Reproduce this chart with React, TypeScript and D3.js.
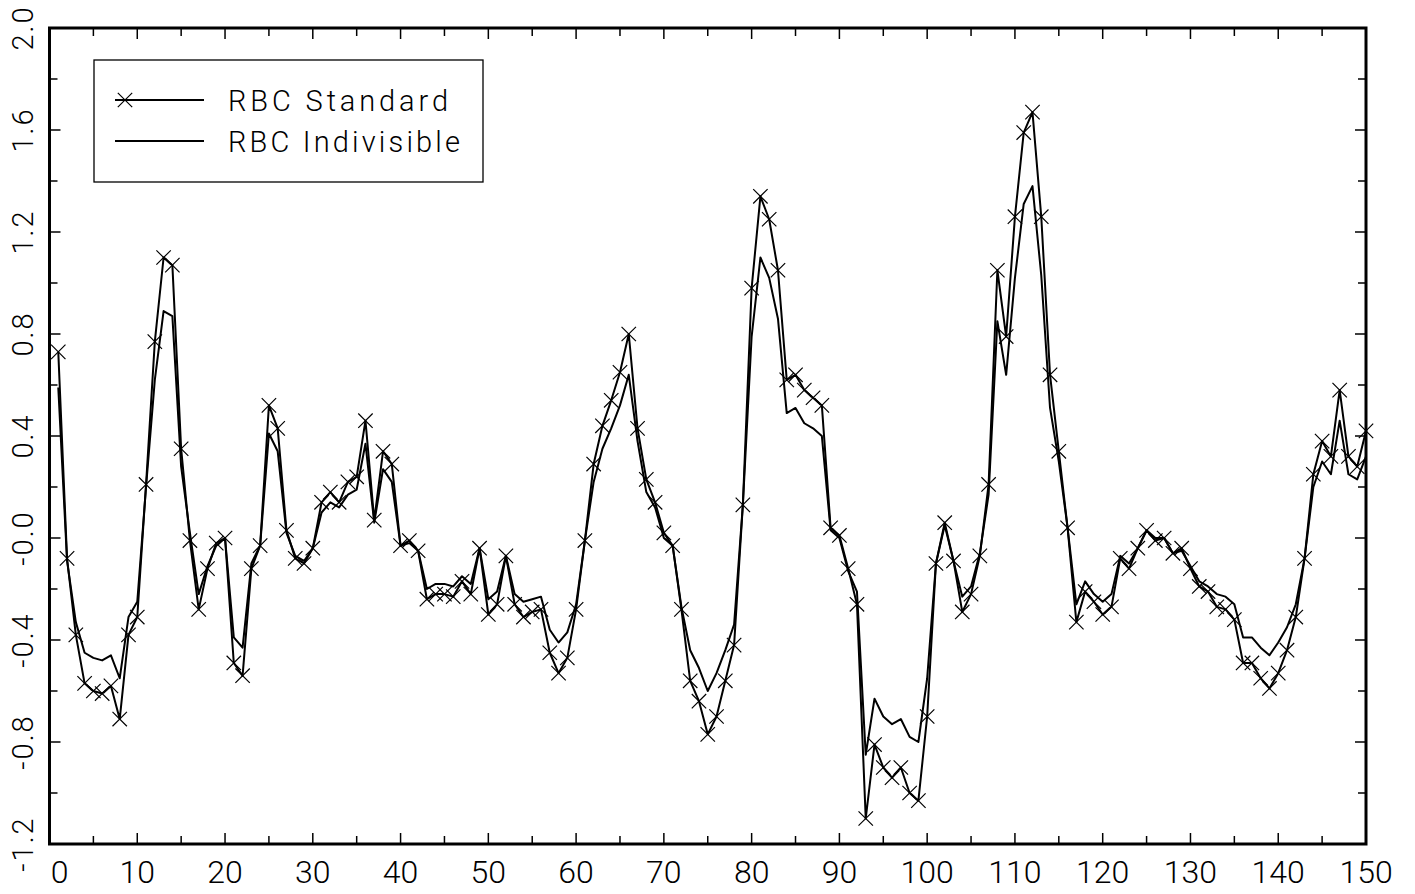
import React from "react";
import * as d3 from "d3";

const periods: number[] = d3.range(1, 151);

const rbcStandard: number[] = [
  0.73, -0.08, -0.38, -0.57, -0.6, -0.61, -0.58, -0.71, -0.38, -0.31,
  0.21, 0.77, 1.1, 1.07, 0.35, -0.01, -0.28, -0.12, -0.02, 0.0,
  -0.49, -0.54, -0.12, -0.03, 0.52, 0.43, 0.03, -0.08, -0.1, -0.04,
  0.14, 0.18, 0.14, 0.22, 0.24, 0.46, 0.07, 0.34, 0.29, -0.03,
  -0.01, -0.05, -0.24, -0.22, -0.22, -0.23, -0.17, -0.22, -0.04, -0.3,
  -0.26, -0.07, -0.26, -0.31, -0.29, -0.28, -0.45, -0.53, -0.47, -0.28,
  -0.01, 0.29, 0.44, 0.54, 0.65, 0.8, 0.43, 0.23, 0.14, 0.02,
  -0.03, -0.28, -0.56, -0.64, -0.77, -0.7, -0.56, -0.42, 0.13, 0.98,
  1.34, 1.25, 1.05, 0.62, 0.64, 0.58, 0.55, 0.52, 0.04, 0.01,
  -0.12, -0.26, -1.1, -0.81, -0.9, -0.94, -0.9, -1.0, -1.03, -0.7,
  -0.1, 0.06, -0.09, -0.29, -0.22, -0.07, 0.21, 1.05, 0.79, 1.26,
  1.59, 1.67, 1.26, 0.64, 0.34, 0.04, -0.33, -0.21, -0.25, -0.3,
  -0.27, -0.08, -0.12, -0.04, 0.03, -0.01, 0.0, -0.06, -0.04, -0.12,
  -0.19, -0.21, -0.27, -0.28, -0.32, -0.49, -0.49, -0.55, -0.59, -0.53,
  -0.44, -0.31, -0.08, 0.25, 0.38, 0.32, 0.58, 0.32, 0.28, 0.42,
];

const rbcIndivisible: number[] = [
  0.59, -0.09, -0.33, -0.45, -0.47, -0.48, -0.46, -0.55, -0.31, -0.25,
  0.2, 0.62, 0.89, 0.87, 0.28, 0.02, -0.22, -0.11, -0.03, 0.0,
  -0.39, -0.43, -0.1, -0.03, 0.41, 0.34, 0.02, -0.07, -0.09, -0.04,
  0.1, 0.14, 0.12, 0.17, 0.19, 0.37, 0.06, 0.27, 0.22, -0.03,
  -0.02, -0.05, -0.2, -0.18, -0.18, -0.19, -0.15, -0.18, -0.04, -0.24,
  -0.21, -0.07, -0.22, -0.25, -0.24, -0.23, -0.36, -0.41, -0.37, -0.26,
  -0.01, 0.22, 0.35, 0.43, 0.52, 0.64, 0.38, 0.18, 0.12, 0.0,
  -0.03, -0.27, -0.44, -0.51, -0.6, -0.53, -0.44, -0.34, 0.13, 0.79,
  1.1, 1.02, 0.86, 0.49, 0.51, 0.45, 0.43, 0.4, 0.03, 0.0,
  -0.13, -0.21, -0.85, -0.63, -0.7, -0.73, -0.71, -0.78, -0.8, -0.55,
  -0.1, 0.05, -0.09, -0.23, -0.19, -0.06, 0.17, 0.85, 0.64, 1.02,
  1.31, 1.38, 1.03, 0.51, 0.3, 0.04, -0.26, -0.17, -0.22, -0.25,
  -0.22, -0.07, -0.1, -0.04, 0.03, 0.0, 0.0, -0.06, -0.05, -0.11,
  -0.17, -0.19, -0.22, -0.23, -0.26, -0.39, -0.39, -0.43, -0.46, -0.41,
  -0.35, -0.26, -0.08, 0.2, 0.3, 0.25, 0.46, 0.25, 0.23, 0.32,
];

const xMajorTicks: number[] = d3.range(0, 151, 10);
const xMinorTicks: number[] = d3.range(5, 150, 10);
const yMajorTicks: number[] = [2.0, 1.6, 1.2, 0.8, 0.4, 0.0, -0.4, -0.8, -1.2];
const yMajorLabels: string[] = ["2.0", "1.6", "1.2", "0.8", "0.4", "-0.0", "-0.4", "-0.8", "-1.2"];
const yMinorTicks: number[] = [1.8, 1.4, 1.0, 0.6, 0.2, -0.2, -0.6, -1.0];
const legendLabels: string[] = ["RBC Standard", "RBC Indivisible"];

const W = 1415;
const H = 894;
const left = 49.5;
const right = 1366;
const top = 28;
const bottom = 844;
const FONT = "Roboto, 'Liberation Sans', sans-serif";

export default function App() {
  const x = d3.scaleLinear().domain([0, 150]).range([left, right]);
  const y = d3.scaleLinear().domain([-1.2, 2.0]).range([bottom, top]);

  const line = d3
    .line<number>()
    .x((_, i) => x(periods[i]))
    .y((d) => y(d));

  const majorLen = 11;
  const minorLen = 8;
  const ms = 7.2;

  const xMark = (cx: number, cy: number, key: string | number) => (
    <path
      key={key}
      d={`M${cx - ms},${cy - ms}L${cx + ms},${cy + ms}M${cx - ms},${cy + ms}L${cx + ms},${cy - ms}`}
      stroke="#000"
      strokeWidth={1.2}
      fill="none"
    />
  );

  return (
    <svg
      width={W}
      height={H}
      style={{ position: "absolute", left: 0, top: 0, background: "#fff" }}
    >
      <rect x={0} y={0} width={W} height={H} fill="#fff" />
      {/* ticks */}
      <g stroke="#000" strokeWidth={1.5}>
        {xMajorTicks.map((t) => (
          <g key={`xm${t}`}>
            <line x1={x(t)} x2={x(t)} y1={bottom} y2={bottom - majorLen} />
            <line x1={x(t)} x2={x(t)} y1={top} y2={top + majorLen} />
          </g>
        ))}
        {xMinorTicks.map((t) => (
          <g key={`xn${t}`}>
            <line x1={x(t)} x2={x(t)} y1={bottom} y2={bottom - minorLen} />
            <line x1={x(t)} x2={x(t)} y1={top} y2={top + minorLen} />
          </g>
        ))}
        {yMajorTicks.map((t) => (
          <g key={`ym${t}`}>
            <line x1={left} x2={left + majorLen} y1={y(t)} y2={y(t)} />
            <line x1={right} x2={right - majorLen} y1={y(t)} y2={y(t)} />
          </g>
        ))}
        {yMinorTicks.map((t) => (
          <g key={`yn${t}`}>
            <line x1={left} x2={left + minorLen} y1={y(t)} y2={y(t)} />
            <line x1={right} x2={right - minorLen} y1={y(t)} y2={y(t)} />
          </g>
        ))}
      </g>

      {/* data lines */}
      <path d={line(rbcIndivisible) || ""} fill="none" stroke="#000" strokeWidth={2} strokeLinejoin="round" />
      <path d={line(rbcStandard) || ""} fill="none" stroke="#000" strokeWidth={2} strokeLinejoin="round" />
      <g>{rbcStandard.map((v, i) => xMark(x(periods[i]), y(v), `m${i}`))}</g>

      {/* frame */}
      <rect
        x={left}
        y={top}
        width={right - left}
        height={bottom - top}
        fill="none"
        stroke="#000"
        strokeWidth={3}
      />

      {/* x labels */}
      <g fontFamily={FONT} fontWeight={300} fontSize={32} fill="#000" textAnchor="middle">
        {xMajorTicks.map((t, i) => (
          <text key={`xl${t}`} x={x(t) + (i === 0 ? 10 : 0)} y={883}>
            {t}
          </text>
        ))}
      </g>

      {/* y labels */}
      <g fontFamily={FONT} fontWeight={300} fontSize={29} fill="#000" textAnchor="middle">
        {yMajorTicks.map((t, i) => (
          <text key={`yl${t}`} transform={`translate(33,${y(t)}) rotate(-90)`} letterSpacing={2}>
            {yMajorLabels[i]}
          </text>
        ))}
      </g>

      {/* legend */}
      <rect x={94} y={60} width={389} height={122} fill="#fff" stroke="#000" strokeWidth={1.3} />
      <line x1={115} x2={204} y1={100} y2={100} stroke="#000" strokeWidth={2} />
      {xMark(125, 100, "legmark")}
      <line x1={115} x2={204} y1={141} y2={141} stroke="#000" strokeWidth={2} />
      <g fontFamily={FONT} fontWeight={300} fontSize={29} fill="#000">
        <text x={228} y={111} textLength={220} lengthAdjust="spacing">
          {legendLabels[0]}
        </text>
        <text x={228} y={152} textLength={232} lengthAdjust="spacing">
          {legendLabels[1]}
        </text>
      </g>
    </svg>
  );
}
